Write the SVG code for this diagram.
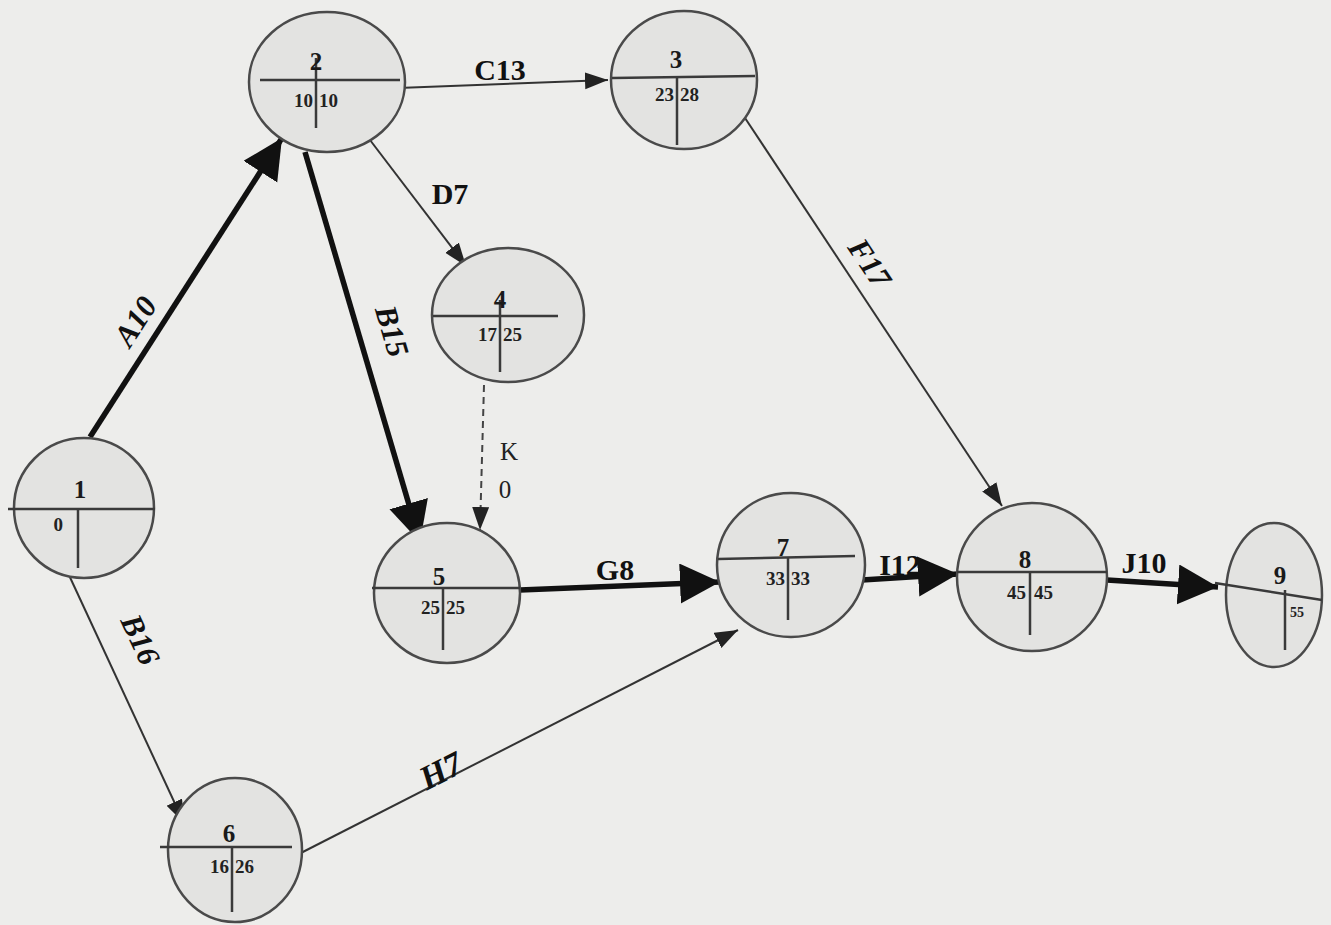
<svg xmlns="http://www.w3.org/2000/svg" width="1331" height="925" viewBox="0 0 1331 925">
<defs>
<style>
.node{fill:#e3e3e1;stroke:#4a4a4a;stroke-width:2.5}
.div{stroke:#3a3a3a;stroke-width:2.5;fill:none}
.num{font-family:"Liberation Serif",serif;font-weight:bold;font-size:25px;fill:#1a1a1a;text-anchor:middle}
.vl{font-family:"Liberation Serif",serif;font-weight:bold;font-size:19px;fill:#222;text-anchor:end}
.vr{font-family:"Liberation Serif",serif;font-weight:bold;font-size:19px;fill:#222;text-anchor:start}
.thick{stroke:#111;stroke-width:5.5;fill:none}
.thin{stroke:#333;stroke-width:2;fill:none}
.dash{stroke:#444;stroke-width:2;fill:none;stroke-dasharray:7,5}
.lbl{font-family:"Liberation Serif",serif;font-weight:bold;font-size:30px;fill:#111;text-anchor:middle}
.ilbl{font-family:"Liberation Serif",serif;font-weight:bold;font-style:italic;font-size:31px;fill:#111;text-anchor:middle}
.klbl{font-family:"Liberation Serif",serif;font-size:25px;fill:#222;text-anchor:middle}
</style>
<marker id="big" markerUnits="userSpaceOnUse" markerWidth="44" markerHeight="44" refX="40" refY="20" orient="auto">
<path d="M0,0 L40,20 L0,40 z" fill="#111"/>
</marker>
<marker id="small" markerUnits="userSpaceOnUse" markerWidth="26" markerHeight="20" refX="23" refY="8.5" orient="auto">
<path d="M0,0 L23,8.5 L0,17 z" fill="#222"/>
</marker>
</defs>
<rect x="0" y="0" width="1331" height="925" fill="#ededeb"/>

<g id="connectors">
<line class="thick" x1="90" y1="437" x2="282" y2="138" marker-end="url(#big)"/>
<line class="thick" x1="305" y1="152" x2="420" y2="542" marker-end="url(#big)"/>
<line class="thin" x1="398" y1="88" x2="608" y2="80" marker-end="url(#small)"/>
<line class="thin" x1="370" y1="140" x2="466" y2="266" marker-end="url(#small)"/>
<line class="thin" x1="745" y1="118" x2="1002" y2="506" marker-end="url(#small)"/>
<line class="dash" x1="484" y1="385" x2="480" y2="530" marker-end="url(#small)"/>
<line class="thick" x1="520" y1="590" x2="720" y2="582" marker-end="url(#big)"/>
<line class="thick" x1="862" y1="580" x2="958" y2="574" marker-end="url(#big)"/>
<line class="thick" x1="1107" y1="580" x2="1218" y2="587" marker-end="url(#big)"/>
<line class="thin" x1="68" y1="573" x2="184" y2="823" marker-end="url(#small)"/>
<line class="thin" x1="293" y1="857" x2="738" y2="630" marker-end="url(#small)"/>
<text class="ilbl" transform="translate(144,327) rotate(-57)">A10</text>
<text class="ilbl" transform="translate(382,334) rotate(73.6)">B15</text>
<text class="lbl" x="500" y="80">C13</text>
<text class="lbl" x="450" y="204">D7</text>
<text class="ilbl" transform="translate(861,269) rotate(56.4)">F17</text>
<text class="klbl" x="509" y="460">K</text>
<text class="klbl" x="505" y="498">0</text>
<text class="lbl" x="615" y="580">G8</text>
<text class="lbl" x="900" y="575">I12</text>
<text class="lbl" x="1144" y="573">J10</text>
<text class="ilbl" transform="translate(131,644) rotate(65)">B16</text>
<text class="ilbl" style="font-size:34px" transform="translate(446,781) rotate(-27)">H7</text>
</g>

<g id="node1">
<ellipse class="node" cx="84" cy="508" rx="70" ry="70"/>
<line class="div" x1="8" y1="509" x2="155" y2="509"/>
<line class="div" x1="78" y1="509" x2="78" y2="568"/>
<text class="num" x="80" y="498">1</text>
<text class="vl" x="63" y="531">0</text>
</g>

<g id="node2">
<ellipse class="node" cx="327" cy="82" rx="78" ry="70"/>
<line class="div" x1="260" y1="80" x2="400" y2="80"/>
<line class="div" x1="316" y1="58" x2="316" y2="128"/>
<text class="num" x="316" y="70">2</text>
<text class="vl" x="313" y="107">10</text>
<text class="vr" x="319" y="107">10</text>
</g>

<g id="node3">
<ellipse class="node" cx="684" cy="80" rx="73" ry="69"/>
<line class="div" x1="612" y1="78" x2="755" y2="76"/>
<line class="div" x1="677" y1="78" x2="677" y2="145"/>
<text class="num" x="676" y="68">3</text>
<text class="vl" x="674" y="101">23</text>
<text class="vr" x="680" y="101">28</text>
</g>

<g id="node4">
<ellipse class="node" cx="508" cy="315" rx="76" ry="67"/>
<line class="div" x1="433" y1="316" x2="558" y2="316"/>
<line class="div" x1="500" y1="300" x2="500" y2="372"/>
<text class="num" x="500" y="308">4</text>
<text class="vl" x="497" y="341">17</text>
<text class="vr" x="503" y="341">25</text>
</g>

<g id="node5">
<ellipse class="node" cx="447" cy="593" rx="73" ry="70"/>
<line class="div" x1="372" y1="588" x2="520" y2="588"/>
<line class="div" x1="443" y1="588" x2="443" y2="650"/>
<text class="num" x="439" y="585">5</text>
<text class="vl" x="440" y="614">25</text>
<text class="vr" x="446" y="614">25</text>
</g>

<g id="node6">
<ellipse class="node" cx="235" cy="850" rx="67" ry="72"/>
<line class="div" x1="160" y1="847" x2="292" y2="847"/>
<line class="div" x1="232" y1="847" x2="232" y2="912"/>
<text class="num" x="229" y="842">6</text>
<text class="vl" x="229" y="873">16</text>
<text class="vr" x="235" y="873">26</text>
</g>

<g id="node7">
<ellipse class="node" cx="791" cy="565" rx="74" ry="72"/>
<line class="div" x1="718" y1="559" x2="855" y2="556"/>
<line class="div" x1="788" y1="558" x2="788" y2="620"/>
<text class="num" x="783" y="556">7</text>
<text class="vl" x="785" y="585">33</text>
<text class="vr" x="791" y="585">33</text>
</g>

<g id="node8">
<ellipse class="node" cx="1032" cy="577" rx="75" ry="74"/>
<line class="div" x1="957" y1="572" x2="1107" y2="572"/>
<line class="div" x1="1030" y1="572" x2="1030" y2="635"/>
<text class="num" x="1025" y="568">8</text>
<text class="vl" x="1026" y="599">45</text>
<text class="vr" x="1034" y="599">45</text>
</g>

<g id="node9">
<ellipse class="node" cx="1274" cy="595" rx="48" ry="72"/>
<line class="div" x1="1215" y1="583" x2="1322" y2="600"/>
<line class="div" x1="1285" y1="590" x2="1285" y2="650"/>
<text class="num" x="1280" y="584">9</text>
<text class="vr" x="1290" y="617" style="font-size:14px">55</text>
</g>
</svg>
